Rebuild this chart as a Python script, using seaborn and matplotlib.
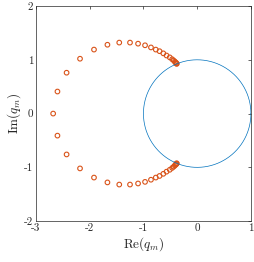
import numpy as np
import pandas as pd
import matplotlib
matplotlib.use("Agg")
import matplotlib.pyplot as plt
import seaborn as sns

# Values (upper half, then lower half)
re_upper = [-2.68, -2.60, -2.43, -2.18, -1.92, -1.67, -1.45, -1.25, -1.10, -0.97,
            -0.86, -0.77, -0.70, -0.63, -0.57, -0.51, -0.465, -0.435, -0.415,
            -0.40, -0.39, -0.385, -0.38]
im_upper = [0.0, 0.41, 0.76, 1.02, 1.19, 1.28, 1.32, 1.32, 1.30, 1.27,
            1.23, 1.19, 1.16, 1.12, 1.08, 1.045, 1.01, 0.985, 0.965,
            0.95, 0.94, 0.93, 0.925]
re_lower = [-2.60, -2.43, -2.18, -1.92, -1.67, -1.45, -1.25, -1.10, -0.97,
            -0.86, -0.77, -0.70, -0.63, -0.57, -0.51, -0.465, -0.435, -0.415,
            -0.40, -0.39, -0.385, -0.38]
im_lower = [-0.41, -0.76, -1.02, -1.19, -1.28, -1.32, -1.32, -1.30, -1.27,
            -1.23, -1.19, -1.16, -1.12, -1.08, -1.045, -1.01, -0.985, -0.965,
            -0.95, -0.94, -0.93, -0.925]

x_ticks = [-3, -2, -1, 0, 1]
y_ticks = [-2, -1, 0, 1, 2]

df = pd.DataFrame({'re': re_upper + re_lower, 'im': im_upper + im_lower})

# unit circle for reference
theta = np.linspace(0, 2 * np.pi, 400)
circ = pd.DataFrame({'x': np.cos(theta), 'y': np.sin(theta)})

sns.set_style('white')
plt.rcParams['font.family'] = ['cmr10', 'DejaVu Serif']
plt.rcParams['mathtext.fontset'] = 'cm'
plt.rcParams['axes.unicode_minus'] = False
plt.rcParams['axes.formatter.use_mathtext'] = False

fig = plt.figure(figsize=(2.55, 2.62), dpi=100)
ax = fig.add_axes([0.141, 0.156, 0.843, 0.821])

sns.lineplot(data=circ, x='x', y='y', sort=False, estimator=None,
             errorbar=None, color='#0072BD', linewidth=0.5, ax=ax)
sns.scatterplot(data=df, x='re', y='im', marker='o', s=11,
                facecolors='none', edgecolor='#D95319', linewidth=0.8, ax=ax)

ax.set_xlim(-3, 1)
ax.set_ylim(-2, 2)
ax.set_xticks(x_ticks)
ax.set_yticks(y_ticks)
ax.set_xticklabels([str(t) for t in x_ticks])
ax.set_yticklabels([str(t) for t in y_ticks])
ax.tick_params(direction='in', length=2, width=0.5, labelsize=8,
               top=True, right=True, colors='#262626', pad=2)
for s in ax.spines.values():
    s.set_linewidth(0.5)
    s.set_color('#262626')

ax.set_xlabel(r'$\mathrm{Re}(q_m)$', fontsize=9.5, labelpad=1)
ax.set_ylabel(r'$\mathrm{Im}(q_m)$', fontsize=9.5, labelpad=1)

fig.savefig('out.png', dpi=100)
